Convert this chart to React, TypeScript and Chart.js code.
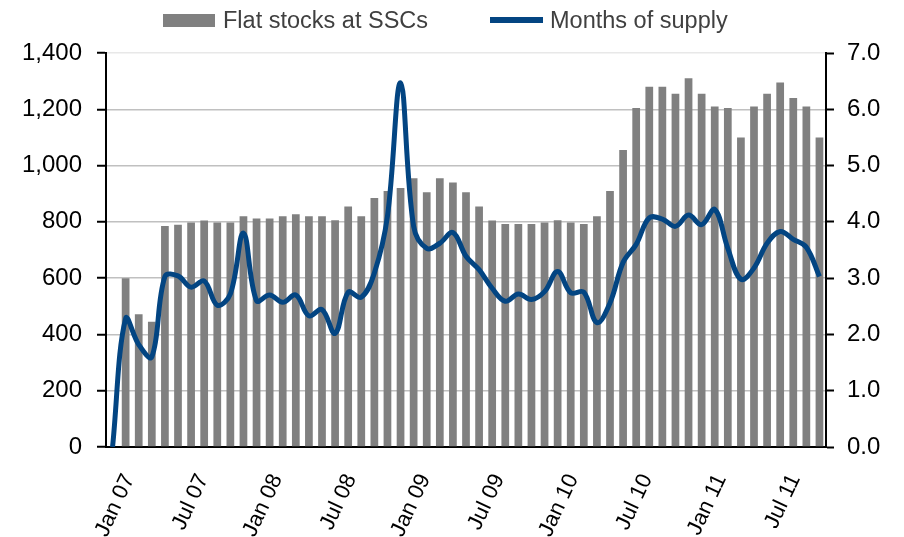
import React, { useEffect, useRef } from 'react';
import { Chart, registerables } from 'chart.js';

Chart.register(...registerables);

// Monthly categories (Jan 07 .. Jul 11)
const months = [
  'Jan 07', 'Feb 07', 'Mar 07', 'Apr 07', 'May 07', 'Jun 07', 'Jul 07', 'Aug 07', 'Sep 07', 'Oct 07', 'Nov 07', 'Dec 07',
  'Jan 08', 'Feb 08', 'Mar 08', 'Apr 08', 'May 08', 'Jun 08', 'Jul 08', 'Aug 08', 'Sep 08', 'Oct 08', 'Nov 08', 'Dec 08',
  'Jan 09', 'Feb 09', 'Mar 09', 'Apr 09', 'May 09', 'Jun 09', 'Jul 09', 'Aug 09', 'Sep 09', 'Oct 09', 'Nov 09', 'Dec 09',
  'Jan 10', 'Feb 10', 'Mar 10', 'Apr 10', 'May 10', 'Jun 10', 'Jul 10', 'Aug 10', 'Sep 10', 'Oct 10', 'Nov 10', 'Dec 10',
  'Jan 11', 'Feb 11', 'Mar 11', 'Apr 11', 'May 11', 'Jun 11', 'Jul 11',
];

// Flat stocks at SSCs (left axis)
const flatStocks = [
  null, 600, 472, 445, 785, 790, 798, 805, 798, 798, 820, 812,
  812, 820, 827, 820, 820, 806, 855, 820, 885, 910, 920, 955,
  905, 955, 940, 905, 855, 805, 792, 792, 792, 798, 806, 798,
  792, 820, 910, 1055, 1205, 1280, 1280, 1255, 1310, 1255, 1210, 1205,
  1100, 1210, 1255, 1295, 1240, 1210, 1100,
];

// Months of supply (right axis)
const monthsOfSupply = [
  0, 2.28, 1.82, 1.6, 3.03, 3.04, 2.84, 2.95, 2.52, 2.72, 3.8, 2.6,
  2.7, 2.57, 2.7, 2.33, 2.44, 2.02, 2.75, 2.66, 3.09, 4.1, 6.47, 3.92,
  3.53, 3.62, 3.81, 3.39, 3.15, 2.82, 2.59, 2.72, 2.62, 2.76, 3.12, 2.74,
  2.75, 2.21, 2.56, 3.28, 3.6, 4.07, 4.05, 3.92, 4.12, 3.95, 4.22, 3.53,
  2.98, 3.18, 3.62, 3.83, 3.69, 3.55, 3.03,
];

const seriesNames = ['Flat stocks at SSCs', 'Months of supply'];

// Date-axis tick labels (month offset from Jan 07)
const tickMonths = [0, 6, 12, 18, 24, 30, 36, 42, 48, 54];
const tickLabels = ['Jan 07', 'Jul 07', 'Jan 08', 'Jul 08', 'Jan 09', 'Jul 09', 'Jan 10', 'Jul 10', 'Jan 11', 'Jul 11'];

const GREY = '#808080';
const BLUE = '#034582';
const FONT = "'Liberation Sans', Arial, sans-serif";

export default function App() {
  const ref = useRef<HTMLCanvasElement>(null);

  useEffect(() => {
    if (!ref.current) return;
    const chart = new Chart(ref.current, {
      type: 'bar',
      data: {
        labels: months,
        datasets: [
          {
            type: 'line',
            label: seriesNames[1],
            data: monthsOfSupply,
            xAxisID: 'x',
            yAxisID: 'y1',
            borderColor: BLUE,
            backgroundColor: BLUE,
            borderWidth: 5,
            pointRadius: 0,
            tension: 0.38,
            order: 1,
          } as any,
          {
            type: 'bar',
            label: seriesNames[0],
            data: flatStocks,
            xAxisID: 'x',
            yAxisID: 'y',
            backgroundColor: GREY,
            categoryPercentage: 1,
            barPercentage: 0.59,
            order: 2,
          } as any,
        ],
      },
      options: {
        responsive: false,
        animation: false,
        layout: { padding: { top: 53, left: 0, right: 0, bottom: 0 } },
        plugins: {
          legend: { display: false },
          tooltip: { enabled: false },
        },
        scales: {
          x: {
            type: 'category',
            display: false,
            offset: true,
          },
          xt: {
            type: 'linear',
            position: 'bottom',
            offset: false,
            min: -1.87,
            max: 56.53,
            grid: { display: false },
            border: { display: true, color: '#000', width: 2 },
            afterBuildTicks: (s: any) => {
              s.ticks = tickMonths.map((v) => ({ value: v }));
            },
            afterFit: (s: any) => {
              s.height = 90;
            },
            ticks: {
              autoSkip: false,
              minRotation: 65,
              maxRotation: 65,
              padding: 15,
              color: '#000',
              font: { family: FONT, size: 22 },
              callback: (v: any) => {
                const i = tickMonths.indexOf(Number(v));
                return i >= 0 ? tickLabels[i] : '';
              },
            },
          } as any,
          y: {
            position: 'left',
            min: 0,
            max: 1400,
            afterFit: (s: any) => {
              s.width = 106;
            },
            grid: {
              color: (c: any) => (c.tick && c.tick.value === 1400 ? '#e8e8e8' : '#c0c0c0'),
              lineWidth: 1.5,
              tickColor: '#000',
              tickLength: 9,
              tickWidth: 2,
            },
            border: { display: true, color: '#000', width: 2 },
            ticks: {
              stepSize: 200,
              padding: 15,
              color: '#000',
              font: { family: FONT, size: 24 },
              callback: (v: any) => Number(v).toLocaleString('en-US'),
            },
          } as any,
          y1: {
            position: 'right',
            min: 0,
            max: 7,
            afterFit: (s: any) => {
              s.width = 78;
            },
            grid: {
              drawOnChartArea: false,
              tickColor: '#000',
              tickLength: 8,
              tickWidth: 2,
            },
            border: { display: true, color: '#000', width: 2 },
            ticks: {
              stepSize: 1,
              padding: 13,
              color: '#000',
              font: { family: FONT, size: 24 },
              callback: (v: any) => Number(v).toFixed(1),
            },
          } as any,
        },
      },
    });
    return () => chart.destroy();
  }, []);

  return (
    <div style={{ position: 'absolute', left: 0, top: 0, width: 904, height: 537, background: '#fff' }}>
      <canvas ref={ref} width={904} height={537} style={{ display: 'block' }} />
      <div
        style={{
          position: 'absolute',
          left: 163,
          top: 7,
          display: 'flex',
          alignItems: 'center',
          fontFamily: FONT,
          fontSize: 23.5,
          lineHeight: '26px',
          color: '#404040',
          whiteSpace: 'nowrap',
        }}
      >
        <span style={{ display: 'inline-block', width: 52, height: 13, background: GREY }} />
        <span style={{ marginLeft: 8 }}>{seriesNames[0]}</span>
        <span style={{ display: 'inline-block', width: 53, height: 6, background: BLUE, marginLeft: 62 }} />
        <span style={{ marginLeft: 7 }}>{seriesNames[1]}</span>
      </div>
    </div>
  );
}
